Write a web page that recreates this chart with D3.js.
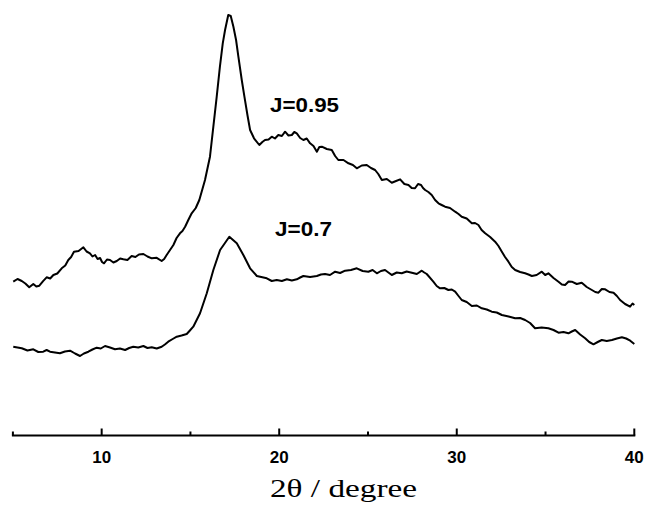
<!DOCTYPE html>
<html lang="en">
<head>
<meta charset="UTF-8">
<title>XRD patterns</title>
<script src="https://d3js.org/d3.v7.min.js"></script>
<style>
    body { margin: 0; background: #fff; }
    svg { display: block; }
</style>
</head>
<body>
<div id="chart"></div>
<script>
    // 2theta (degree) and intensity (a.u.)
    const angle95 = [5.02, 5.26, 5.50, 5.70, 5.92, 6.15, 6.32, 6.49, 6.70, 6.90, 7.10, 7.28, 7.50, 7.75, 7.95, 8.12,
        8.28, 8.44, 8.70, 8.97, 9.15, 9.34, 9.48, 9.63, 9.77, 9.91, 10.02, 10.13, 10.30, 10.47, 10.66, 10.85,
        11.04, 11.22, 11.45, 11.69, 11.90, 12.10, 12.35, 12.58, 12.82, 13.10, 13.38, 13.52, 13.66, 13.85, 14.04,
        14.22, 14.41, 14.55, 14.70, 14.88, 15.07, 15.30, 15.50, 15.82, 16.10, 16.29, 16.48, 16.66, 16.82, 16.95,
        17.13, 17.27, 17.42, 17.57, 17.70, 17.89, 18.04, 18.21, 18.36, 18.58, 18.88, 19.05, 19.20, 19.40, 19.58,
        19.76, 19.95, 20.15, 20.33, 20.52, 20.71, 20.85, 20.99, 21.18, 21.36, 21.55, 21.74, 21.93, 22.12, 22.26,
        22.40, 22.68, 22.96, 23.15, 23.33, 23.62, 23.90, 24.15, 24.37, 24.65, 24.93, 25.17, 25.40, 25.58, 25.78,
        26.06, 26.34, 26.58, 26.81, 27.05, 27.28, 27.46, 27.65, 27.82, 27.99, 28.10, 28.22, 28.40, 28.59, 28.78,
        28.97, 29.15, 29.34, 29.62, 29.91, 30.10, 30.28, 30.56, 30.85, 31.03, 31.22, 31.40, 31.60, 31.88, 32.16,
        32.35, 32.54, 32.72, 32.91, 33.10, 33.29, 33.57, 33.85, 34.04, 34.23, 34.50, 34.79, 34.98, 35.16, 35.45,
        35.73, 35.92, 36.10, 36.30, 36.48, 36.76, 37.04, 37.32, 37.61, 37.80, 37.98, 38.17, 38.36, 38.60, 38.83,
        39.02, 39.20, 39.48, 39.76, 39.90, 40.0];
    const intensity95 = [154.3, 157, 155, 152.5, 148.7, 152, 149.5, 150.3, 154.8, 158.7, 157.5, 161, 162.5, 167.7, 170.5, 176,
        179, 184.3, 185, 188.7, 184.5, 182.7, 179.5, 181, 177, 178, 174, 172.7, 176.5, 176, 173.5, 175,
        177.5, 176.7, 176, 180, 179, 181.5, 182, 179.5, 177.7, 178.2, 175, 177, 181, 186, 191,
        198, 202.7, 205, 209.3, 216, 222.7, 228, 236, 256, 279.3, 309.3, 339.3, 369.3, 392.7, 406,
        421, 420, 409.3, 396, 379.3, 356, 339.3, 321, 306, 297.7, 291, 294, 296, 296.5, 299.3,
        297.5, 301, 300, 304.3, 300.5, 301, 304, 302.7, 298, 296, 297.5, 292.7, 290, 284.3, 289,
        289.3, 287, 286, 280, 276, 276, 272.7, 271, 267.7, 270.5, 271, 268, 266, 262, 256,
        257, 253.3, 255, 256.7, 252, 251, 248, 247.7, 252, 251, 248, 246, 244, 241, 236,
        232.7, 231, 229.3, 228, 224.3, 222, 219.3, 217.5, 212.7, 213, 211, 206, 202.7, 199, 194.3,
        190, 184.3, 179, 174.3, 169, 166, 164, 162.7, 161.5, 160, 161, 164.3, 161, 162.7, 158,
        154.3, 151.5, 151, 154.5, 154.3, 152, 153.3, 149, 146, 144, 143.3, 147, 146.7, 144, 143.3,
        140, 136, 132, 129.3, 132.5, 131];

    const angle07 = [5.02, 5.26, 5.50, 5.82, 6.15, 6.43, 6.71, 6.90, 7.09, 7.37, 7.65, 7.93, 8.22, 8.50, 8.78, 9.00,
        9.25, 9.48, 9.72, 9.95, 10.19, 10.47, 10.75, 11.03, 11.32, 11.55, 11.78, 12.06, 12.35, 12.58, 12.82,
        13.10, 13.38, 13.56, 13.75, 14.00, 14.23, 14.50, 14.79, 14.97, 15.16, 15.54, 15.92, 16.29, 16.67, 17.19,
        17.61, 17.98, 18.36, 18.74, 19.30, 19.58, 19.86, 20.15, 20.43, 20.71, 20.99, 21.18, 21.36, 21.74, 22.12,
        22.35, 22.58, 22.86, 23.15, 23.43, 23.71, 24.04, 24.37, 24.70, 25.02, 25.26, 25.50, 25.73, 25.96, 26.15,
        26.34, 26.62, 26.90, 27.18, 27.47, 27.75, 28.03, 28.17, 28.31, 28.68, 28.87, 29.06, 29.30, 29.53, 29.72,
        29.91, 30.10, 30.28, 30.56, 30.85, 31.13, 31.41, 31.69, 31.97, 32.25, 32.54, 32.92, 33.29, 33.57, 33.85,
        34.13, 34.41, 34.78, 35.16, 35.45, 35.73, 36.01, 36.29, 36.48, 36.67, 36.95, 37.23, 37.46, 37.70, 37.94,
        38.17, 38.45, 38.74, 39.02, 39.30, 39.54, 39.77, 40.0];
    const intensity07 = [89.3, 88.5, 87.7, 85.5, 86.7, 84, 84.3, 86, 84.3, 83.5, 82.7, 84.5, 85.3, 82.5, 80, 82.5,
        84.3, 86.5, 88.3, 87.5, 90, 88.5, 86.7, 87.5, 86, 88, 89.3, 88.5, 90, 88, 88.7,
        87.5, 89.3, 91.5, 94.3, 97, 99.3, 100.5, 102, 105.5, 109.3, 122.7, 142.7, 166, 186, 199.3,
        192.7, 181, 167.7, 160, 157.7, 155, 156, 155, 156.7, 155.5, 156.7, 158.5, 160, 159, 160,
        161.5, 162, 161, 164.3, 163, 165.3, 166, 167.7, 165, 164.3, 166, 162.7, 165, 166, 163.5,
        161, 163.5, 162.7, 164.5, 163.3, 162, 165.3, 163.5, 162, 154.3, 150, 147.7, 148, 146, 146.5,
        144.3, 140, 136, 134, 130, 130.5, 127.7, 126.5, 124.3, 123.5, 121, 119.5, 117.7, 118, 116,
        113, 107.7, 108.5, 107.7, 106, 103.3, 104, 102.7, 104.5, 106, 101.5, 97.7, 94, 91.7, 94,
        96, 95, 96, 97.5, 98.7, 97.5, 95.3, 92];

    const series = [
        { label: "J=0.95", angle: angle95, intensity: intensity95 },
        { label: "J=0.7", angle: angle07, intensity: intensity07 }
    ];
    const majorTicks = [10, 20, 30, 40];
    const minorTicks = [5, 15, 25, 35];

    const width = 645, height = 506;
    const axisY = 435.5;
    const sans = "'Liberation Sans', Arial, sans-serif";

    const svg = d3.select("#chart").append("svg")
        .attr("width", width)
        .attr("height", height);

    const x = d3.scaleLinear().domain([5, 40]).range([12.9, 634.3]);
    const y = d3.scaleLinear().domain([0, 436]).range([436, 0]);

    const line = d3.line()
        .x(d => x(d[0]))
        .y(d => y(d[1]));

    svg.append("g").selectAll("path")
        .data(series)
        .join("path")
        .attr("d", s => line(d3.zip(s.angle, s.intensity)))
        .attr("fill", "none")
        .attr("stroke", "#000")
        .attr("stroke-width", 2)
        .attr("stroke-linejoin", "round");

    // labels next to each curve
    svg.append("text")
        .attr("x", 270).attr("y", 112)
        .attr("textLength", 69).attr("lengthAdjust", "spacingAndGlyphs")
        .attr("font-family", sans)
        .attr("font-weight", "bold")
        .attr("font-size", 20)
        .text(series[0].label);
    svg.append("text")
        .attr("x", 275).attr("y", 236)
        .attr("textLength", 57).attr("lengthAdjust", "spacingAndGlyphs")
        .attr("font-family", sans)
        .attr("font-weight", "bold")
        .attr("font-size", 20)
        .text(series[1].label);

    // x axis: ticks point up into the plot
    const axis = svg.append("g").attr("transform", `translate(0,${axisY})`);
    axis.append("line")
        .attr("x1", x(5) - 1).attr("x2", x(40) + 1)
        .attr("stroke", "#000").attr("stroke-width", 2);
    axis.selectAll(".major")
        .data(majorTicks)
        .join("line")
        .attr("class", "major")
        .attr("x1", d => x(d)).attr("x2", d => x(d))
        .attr("y1", 0).attr("y2", -7)
        .attr("stroke", "#000").attr("stroke-width", 2);
    axis.selectAll(".minor")
        .data(minorTicks)
        .join("line")
        .attr("class", "minor")
        .attr("x1", d => x(d)).attr("x2", d => x(d))
        .attr("y1", 0).attr("y2", -4)
        .attr("stroke", "#000").attr("stroke-width", 2);
    axis.selectAll(".tick-label")
        .data(majorTicks)
        .join("text")
        .attr("class", "tick-label")
        .attr("x", d => x(d))
        .attr("y", 27)
        .attr("text-anchor", "middle")
        .attr("font-family", sans)
        .attr("font-weight", "bold")
        .attr("font-size", 17)
        .text(d => d);

    svg.append("text")
        .attr("x", 270).attr("y", 497)
        .attr("textLength", 147).attr("lengthAdjust", "spacingAndGlyphs")
        .attr("font-family", "'Liberation Serif', 'Times New Roman', serif")
        .attr("font-size", 25)
        .text("2θ / degree");
</script>
</body>
</html>
